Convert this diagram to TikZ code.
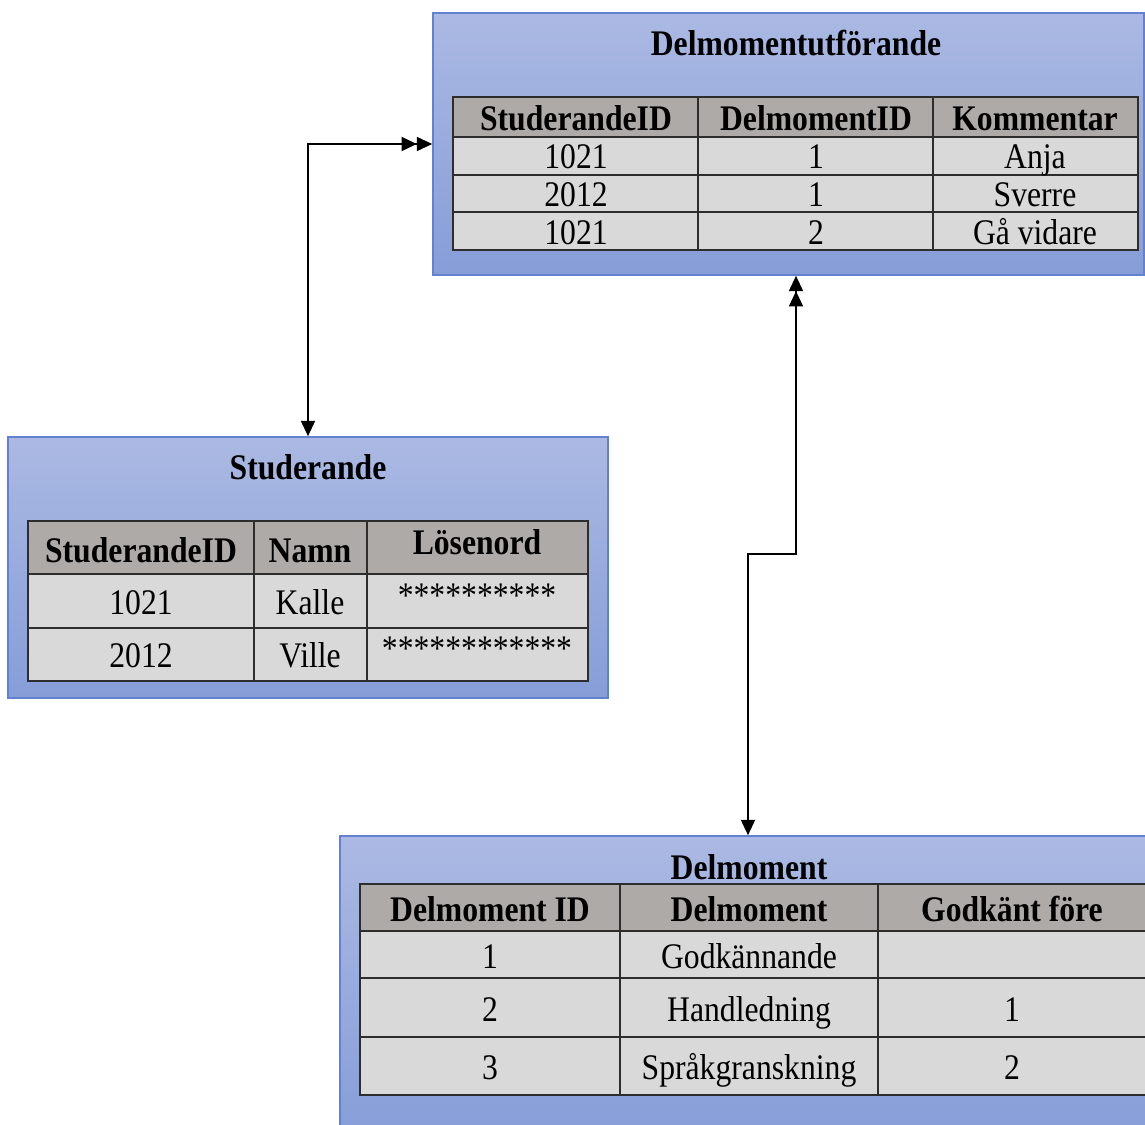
\documentclass[tikz,border=0pt]{standalone}
\usepackage{fontspec}
\setmainfont{Liberation Serif}[FakeStretch=0.88]
\usetikzlibrary{arrows.meta,fit}
\definecolor{boxtop}{RGB}{171,185,227}
\definecolor{boxbot}{RGB}{134,157,216}
\definecolor{boxline}{RGB}{98,130,208}
\definecolor{headfill}{RGB}{174,170,168}
\definecolor{bodyfill}{RGB}{217,217,217}
\definecolor{gridline}{RGB}{45,45,45}
\tikzset{
  tbox/.style={draw=boxline, line width=1.2pt, top color=boxtop, bottom color=boxbot, inner sep=0pt, rectangle},
  txt/.style={inner sep=0pt, text height=18.4pt, text depth=0pt},
  ttl/.style={txt, font=\fontsize{27}{30}\selectfont\bfseries},
  hd/.style={txt, font=\fontsize{27}{30}\selectfont\bfseries},
  cl/.style={txt, font=\fontsize{27}{30}\selectfont},
  ast/.style={txt, font=\fontsize{27}{30}\selectfont},
  hcell/.style={fill=headfill, draw=gridline, line width=1.1pt},
  bcell/.style={fill=bodyfill, draw=gridline, line width=1.1pt},
  conn/.style={line width=1.4pt, {Triangle[length=11.5pt,width=10.5pt]}-{Triangle[length=11.5pt,width=10.5pt] Triangle[length=11.5pt,width=10.5pt]}}
}
\begin{document}
\begin{tikzpicture}[x=0.75pt,y=-0.75pt]
\useasboundingbox (0,0) rectangle (1145,1124);
% ---------- Box 1: Delmomentutförande
\coordinate (b1nw) at (433,13);
\coordinate (b1se) at (1144,275);
\node[tbox, fit=(b1nw)(b1se)] (b1) {};
\node[ttl] (t1) at (796,43) {Delmomentutförande};
\draw[hcell] (453,97) rectangle (698,137);
\draw[hcell] (698,97) rectangle (933,137);
\draw[hcell] (933,97) rectangle (1138,137);
\foreach \ya/\yb in {137/175,175/212,212/250}{
  \draw[bcell] (453,\ya) rectangle (698,\yb);
  \draw[bcell] (698,\ya) rectangle (933,\yb);
  \draw[bcell] (933,\ya) rectangle (1138,\yb);
}
\node[hd] (h11) at (576,118) {StuderandeID};
\node[hd] (h12) at (816,118) {DelmomentID};
\node[hd] (h13) at (1035,118) {Kommentar};
\node[cl] (c111) at (576,156) {1021};
\node[cl] (c112) at (816,156) {1};
\node[cl] (c113) at (1035,156) {Anja};
\node[cl] (c121) at (576,194) {2012};
\node[cl] (c122) at (816,194) {1};
\node[cl] (c123) at (1035,194) {Sverre};
\node[cl] (c131) at (576,232) {1021};
\node[cl] (c132) at (816,232) {2};
\node[cl] (c133) at (1035,232) {Gå vidare};
% ---------- Box 2: Studerande
\coordinate (b2nw) at (8,437);
\coordinate (b2se) at (608,698);
\node[tbox, fit=(b2nw)(b2se)] (b2) {};
\node[ttl] (t2) at (308,467) {Studerande};
\draw[hcell] (28,521) rectangle (254,574);
\draw[hcell] (254,521) rectangle (367,574);
\draw[hcell] (367,521) rectangle (588,574);
\foreach \ya/\yb in {574/628,628/681}{
  \draw[bcell] (28,\ya) rectangle (254,\yb);
  \draw[bcell] (254,\ya) rectangle (367,\yb);
  \draw[bcell] (367,\ya) rectangle (588,\yb);
}
\node[hd] (h21) at (141,550) {StuderandeID};
\node[hd] (h22) at (310,550) {Namn};
\node[hd] (h23) at (477,542) {Lösenord};
\node[cl] (c211) at (141,602) {1021};
\node[cl] (c212) at (310,602) {Kalle};
\node[ast] (c213) at (477,595) {**********};
\node[cl] (c221) at (141,655) {2012};
\node[cl] (c222) at (310,655) {Ville};
\node[ast] (c223) at (477,648) {************};
% ---------- Box 3: Delmoment
\coordinate (b3nw) at (340,836);
\coordinate (b3se) at (1170,1140);
\node[tbox, fit=(b3nw)(b3se)] (b3) {};
\node[ttl] (t3) at (749,867) {Delmoment};
\draw[hcell] (360,884) rectangle (620,931);
\draw[hcell] (620,884) rectangle (878,931);
\draw[hcell] (878,884) rectangle (1160,931);
\foreach \ya/\yb in {931/978,978/1037,1037/1095}{
  \draw[bcell] (360,\ya) rectangle (620,\yb);
  \draw[bcell] (620,\ya) rectangle (878,\yb);
  \draw[bcell] (878,\ya) rectangle (1160,\yb);
}
\node[hd] (h31) at (490,909) {Delmoment ID};
\node[hd] (h32) at (749,909) {Delmoment};
\node[hd] (h33) at (1012,909) {Godkänt före};
\node[cl] (c311) at (490,956) {1};
\node[cl] (c312) at (749,956) {Godkännande};
\node[cl] (c321) at (490,1009) {2};
\node[cl] (c322) at (749,1009) {Handledning};
\node[cl] (c323) at (1012,1009) {1};
\node[cl] (c331) at (490,1067) {3};
\node[cl] (c332) at (749,1067) {Språkgranskning};
\node[cl] (c333) at (1012,1067) {2};
% ---------- connectors
\coordinate (j1) at (748,554);
\coordinate (j2) at (796,554);
\draw[conn] (b2.north) |- (b1.west);
\draw[conn] (b3.north -| j1) -- (j1) -- (j2) -- (j2 |- b1.south);
\end{tikzpicture}
\end{document}
